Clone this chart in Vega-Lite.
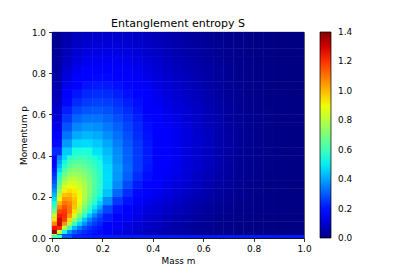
{
"$schema": "https://vega.github.io/schema/vega-lite/v6.json",
"width": 252, "height": 206,
"autosize": "none",
"padding": {"left": 52, "top": 32, "right": 105, "bottom": 35},
"background": "white",
"title": {"text": "Entanglement entropy S", "fontSize": 11, "font": "DejaVu Sans", "fontWeight": "normal", "color": "black", "offset": -1},
"config": {"view": {"stroke": "black", "strokeWidth": 0.8}, "font": "DejaVu Sans",
  "axis": {"grid": false, "tickSize": 3.5, "tickColor": "black", "domainColor": "black", "labelColor": "black", "labelFontSize": 8.9, "titleFontSize": 8.9, "titleFontWeight": "normal", "titleColor": "black", "labelPadding": 3, "titlePadding": 3, "labelFlush": false, "tickWidth": 0.8, "domainWidth": 0.8, "labelFont": "DejaVu Sans", "titleFont": "DejaVu Sans"}},
"datasets": {
"grid": [
{"m":0.02,"p":0.02,"s":0.84},{"m":0.06,"p":0.02,"s":0.33},{"m":0.10,"p":0.02,"s":0.24},{"m":0.14,"p":0.02,"s":0.19},{"m":0.18,"p":0.02,"s":0.16},{"m":0.22,"p":0.02,"s":0.14},{"m":0.26,"p":0.02,"s":0.12},{"m":0.30,"p":0.02,"s":0.10},{"m":0.34,"p":0.02,"s":0.085},{"m":0.38,"p":0.02,"s":0.07},{"m":0.42,"p":0.02,"s":0.06},{"m":0.46,"p":0.02,"s":0.05},{"m":0.50,"p":0.02,"s":0.04},{"m":0.54,"p":0.02,"s":0.032},{"m":0.58,"p":0.02,"s":0.025},{"m":0.62,"p":0.02,"s":0.018},{"m":0.66,"p":0.02,"s":0.013},{"m":0.70,"p":0.02,"s":0.010},{"m":0.74,"p":0.02,"s":0.008},{"m":0.78,"p":0.02,"s":0.006},{"m":0.82,"p":0.02,"s":0.005},{"m":0.86,"p":0.02,"s":0.004},{"m":0.90,"p":0.02,"s":0.004},{"m":0.94,"p":0.02,"s":0.003},{"m":0.98,"p":0.02,"s":0.003},
{"m":0.02,"p":0.06,"s":1.34},{"m":0.06,"p":0.06,"s":0.80},{"m":0.10,"p":0.06,"s":0.443},{"m":0.14,"p":0.06,"s":0.30},{"m":0.18,"p":0.06,"s":0.22},{"m":0.22,"p":0.06,"s":0.175},{"m":0.26,"p":0.06,"s":0.145},{"m":0.30,"p":0.06,"s":0.12},{"m":0.34,"p":0.06,"s":0.10},{"m":0.38,"p":0.06,"s":0.085},{"m":0.42,"p":0.06,"s":0.075},{"m":0.46,"p":0.06,"s":0.06},{"m":0.50,"p":0.06,"s":0.048},{"m":0.54,"p":0.06,"s":0.038},{"m":0.58,"p":0.06,"s":0.03},{"m":0.62,"p":0.06,"s":0.022},{"m":0.66,"p":0.06,"s":0.016},{"m":0.70,"p":0.06,"s":0.012},{"m":0.74,"p":0.06,"s":0.009},{"m":0.78,"p":0.06,"s":0.007},{"m":0.82,"p":0.06,"s":0.006},{"m":0.86,"p":0.06,"s":0.005},{"m":0.90,"p":0.06,"s":0.004},{"m":0.94,"p":0.06,"s":0.004},{"m":0.98,"p":0.06,"s":0.003},
{"m":0.02,"p":0.10,"s":1.18},{"m":0.06,"p":0.10,"s":1.12},{"m":0.10,"p":0.10,"s":0.72},{"m":0.14,"p":0.10,"s":0.453},{"m":0.18,"p":0.10,"s":0.29},{"m":0.22,"p":0.10,"s":0.21},{"m":0.26,"p":0.10,"s":0.175},{"m":0.30,"p":0.10,"s":0.145},{"m":0.34,"p":0.10,"s":0.12},{"m":0.38,"p":0.10,"s":0.10},{"m":0.42,"p":0.10,"s":0.086},{"m":0.46,"p":0.10,"s":0.073},{"m":0.50,"p":0.10,"s":0.06},{"m":0.54,"p":0.10,"s":0.048},{"m":0.58,"p":0.10,"s":0.037},{"m":0.62,"p":0.10,"s":0.028},{"m":0.66,"p":0.10,"s":0.02},{"m":0.70,"p":0.10,"s":0.015},{"m":0.74,"p":0.10,"s":0.011},{"m":0.78,"p":0.10,"s":0.008},{"m":0.82,"p":0.10,"s":0.007},{"m":0.86,"p":0.10,"s":0.006},{"m":0.90,"p":0.10,"s":0.005},{"m":0.94,"p":0.10,"s":0.004},{"m":0.98,"p":0.10,"s":0.004},
{"m":0.02,"p":0.14,"s":0.96},{"m":0.06,"p":0.14,"s":1.15},{"m":0.10,"p":0.14,"s":0.89},{"m":0.14,"p":0.14,"s":0.62},{"m":0.18,"p":0.14,"s":0.421},{"m":0.22,"p":0.14,"s":0.27},{"m":0.26,"p":0.14,"s":0.20},{"m":0.30,"p":0.14,"s":0.16},{"m":0.34,"p":0.14,"s":0.135},{"m":0.38,"p":0.14,"s":0.115},{"m":0.42,"p":0.14,"s":0.097},{"m":0.46,"p":0.14,"s":0.085},{"m":0.50,"p":0.14,"s":0.072},{"m":0.54,"p":0.14,"s":0.058},{"m":0.58,"p":0.14,"s":0.045},{"m":0.62,"p":0.14,"s":0.035},{"m":0.66,"p":0.14,"s":0.025},{"m":0.70,"p":0.14,"s":0.018},{"m":0.74,"p":0.14,"s":0.013},{"m":0.78,"p":0.14,"s":0.010},{"m":0.82,"p":0.14,"s":0.008},{"m":0.86,"p":0.14,"s":0.007},{"m":0.90,"p":0.14,"s":0.006},{"m":0.94,"p":0.14,"s":0.005},{"m":0.98,"p":0.14,"s":0.004},
{"m":0.02,"p":0.18,"s":0.79},{"m":0.06,"p":0.18,"s":1.08},{"m":0.10,"p":0.18,"s":0.94},{"m":0.14,"p":0.18,"s":0.72},{"m":0.18,"p":0.18,"s":0.53},{"m":0.22,"p":0.18,"s":0.37},{"m":0.26,"p":0.18,"s":0.253},{"m":0.30,"p":0.18,"s":0.20},{"m":0.34,"p":0.18,"s":0.16},{"m":0.38,"p":0.18,"s":0.135},{"m":0.42,"p":0.18,"s":0.115},{"m":0.46,"p":0.18,"s":0.10},{"m":0.50,"p":0.18,"s":0.086},{"m":0.54,"p":0.18,"s":0.07},{"m":0.58,"p":0.18,"s":0.055},{"m":0.62,"p":0.18,"s":0.043},{"m":0.66,"p":0.18,"s":0.031},{"m":0.70,"p":0.18,"s":0.022},{"m":0.74,"p":0.18,"s":0.016},{"m":0.78,"p":0.18,"s":0.012},{"m":0.82,"p":0.18,"s":0.009},{"m":0.86,"p":0.18,"s":0.007},{"m":0.90,"p":0.18,"s":0.006},{"m":0.94,"p":0.18,"s":0.005},{"m":0.98,"p":0.18,"s":0.004},
{"m":0.02,"p":0.22,"s":0.64},{"m":0.06,"p":0.22,"s":0.97},{"m":0.10,"p":0.22,"s":0.91},{"m":0.14,"p":0.22,"s":0.75},{"m":0.18,"p":0.22,"s":0.58},{"m":0.22,"p":0.22,"s":0.445},{"m":0.26,"p":0.22,"s":0.317},{"m":0.30,"p":0.22,"s":0.235},{"m":0.34,"p":0.22,"s":0.185},{"m":0.38,"p":0.22,"s":0.155},{"m":0.42,"p":0.22,"s":0.135},{"m":0.46,"p":0.22,"s":0.118},{"m":0.50,"p":0.22,"s":0.10},{"m":0.54,"p":0.22,"s":0.082},{"m":0.58,"p":0.22,"s":0.066},{"m":0.62,"p":0.22,"s":0.052},{"m":0.66,"p":0.22,"s":0.038},{"m":0.70,"p":0.22,"s":0.027},{"m":0.74,"p":0.22,"s":0.019},{"m":0.78,"p":0.22,"s":0.014},{"m":0.82,"p":0.22,"s":0.010},{"m":0.86,"p":0.22,"s":0.008},{"m":0.90,"p":0.22,"s":0.006},{"m":0.94,"p":0.22,"s":0.005},{"m":0.98,"p":0.22,"s":0.004},
{"m":0.02,"p":0.26,"s":0.51},{"m":0.06,"p":0.26,"s":0.85},{"m":0.10,"p":0.26,"s":0.85},{"m":0.14,"p":0.26,"s":0.74},{"m":0.18,"p":0.26,"s":0.60},{"m":0.22,"p":0.26,"s":0.475},{"m":0.26,"p":0.26,"s":0.368},{"m":0.30,"p":0.26,"s":0.275},{"m":0.34,"p":0.26,"s":0.21},{"m":0.38,"p":0.26,"s":0.172},{"m":0.42,"p":0.26,"s":0.15},{"m":0.46,"p":0.26,"s":0.13},{"m":0.50,"p":0.26,"s":0.112},{"m":0.54,"p":0.26,"s":0.093},{"m":0.58,"p":0.26,"s":0.076},{"m":0.62,"p":0.26,"s":0.059},{"m":0.66,"p":0.26,"s":0.044},{"m":0.70,"p":0.26,"s":0.031},{"m":0.74,"p":0.26,"s":0.021},{"m":0.78,"p":0.26,"s":0.015},{"m":0.82,"p":0.26,"s":0.011},{"m":0.86,"p":0.26,"s":0.008},{"m":0.90,"p":0.26,"s":0.007},{"m":0.94,"p":0.26,"s":0.005},{"m":0.98,"p":0.26,"s":0.004},
{"m":0.02,"p":0.30,"s":0.415},{"m":0.06,"p":0.30,"s":0.74},{"m":0.10,"p":0.30,"s":0.775},{"m":0.14,"p":0.30,"s":0.70},{"m":0.18,"p":0.30,"s":0.60},{"m":0.22,"p":0.30,"s":0.48},{"m":0.26,"p":0.30,"s":0.383},{"m":0.30,"p":0.30,"s":0.306},{"m":0.34,"p":0.30,"s":0.235},{"m":0.38,"p":0.30,"s":0.19},{"m":0.42,"p":0.30,"s":0.162},{"m":0.46,"p":0.30,"s":0.14},{"m":0.50,"p":0.30,"s":0.122},{"m":0.54,"p":0.30,"s":0.102},{"m":0.58,"p":0.30,"s":0.084},{"m":0.62,"p":0.30,"s":0.066},{"m":0.66,"p":0.30,"s":0.05},{"m":0.70,"p":0.30,"s":0.036},{"m":0.74,"p":0.30,"s":0.024},{"m":0.78,"p":0.30,"s":0.017},{"m":0.82,"p":0.30,"s":0.012},{"m":0.86,"p":0.30,"s":0.009},{"m":0.90,"p":0.30,"s":0.007},{"m":0.94,"p":0.30,"s":0.006},{"m":0.98,"p":0.30,"s":0.005},
{"m":0.02,"p":0.34,"s":0.343},{"m":0.06,"p":0.34,"s":0.64},{"m":0.10,"p":0.34,"s":0.69},{"m":0.14,"p":0.34,"s":0.654},{"m":0.18,"p":0.34,"s":0.572},{"m":0.22,"p":0.34,"s":0.475},{"m":0.26,"p":0.34,"s":0.392},{"m":0.30,"p":0.34,"s":0.319},{"m":0.34,"p":0.34,"s":0.255},{"m":0.38,"p":0.34,"s":0.205},{"m":0.42,"p":0.34,"s":0.17},{"m":0.46,"p":0.34,"s":0.148},{"m":0.50,"p":0.34,"s":0.13},{"m":0.54,"p":0.34,"s":0.11},{"m":0.58,"p":0.34,"s":0.092},{"m":0.62,"p":0.34,"s":0.073},{"m":0.66,"p":0.34,"s":0.056},{"m":0.70,"p":0.34,"s":0.04},{"m":0.74,"p":0.34,"s":0.027},{"m":0.78,"p":0.34,"s":0.019},{"m":0.82,"p":0.34,"s":0.013},{"m":0.86,"p":0.34,"s":0.010},{"m":0.90,"p":0.34,"s":0.008},{"m":0.94,"p":0.34,"s":0.006},{"m":0.98,"p":0.34,"s":0.005},
{"m":0.02,"p":0.38,"s":0.281},{"m":0.06,"p":0.38,"s":0.535},{"m":0.10,"p":0.38,"s":0.614},{"m":0.14,"p":0.38,"s":0.593},{"m":0.18,"p":0.38,"s":0.53},{"m":0.22,"p":0.38,"s":0.454},{"m":0.26,"p":0.38,"s":0.375},{"m":0.30,"p":0.38,"s":0.311},{"m":0.34,"p":0.38,"s":0.253},{"m":0.38,"p":0.38,"s":0.212},{"m":0.42,"p":0.38,"s":0.175},{"m":0.46,"p":0.38,"s":0.152},{"m":0.50,"p":0.38,"s":0.133},{"m":0.54,"p":0.38,"s":0.113},{"m":0.58,"p":0.38,"s":0.095},{"m":0.62,"p":0.38,"s":0.076},{"m":0.66,"p":0.38,"s":0.058},{"m":0.70,"p":0.38,"s":0.042},{"m":0.74,"p":0.38,"s":0.029},{"m":0.78,"p":0.38,"s":0.020},{"m":0.82,"p":0.38,"s":0.014},{"m":0.86,"p":0.38,"s":0.010},{"m":0.90,"p":0.38,"s":0.008},{"m":0.94,"p":0.38,"s":0.006},{"m":0.98,"p":0.38,"s":0.005},
{"m":0.02,"p":0.42,"s":0.231},{"m":0.06,"p":0.42,"s":0.454},{"m":0.10,"p":0.42,"s":0.532},{"m":0.14,"p":0.42,"s":0.535},{"m":0.18,"p":0.42,"s":0.489},{"m":0.22,"p":0.42,"s":0.434},{"m":0.26,"p":0.42,"s":0.366},{"m":0.30,"p":0.42,"s":0.305},{"m":0.34,"p":0.42,"s":0.252},{"m":0.38,"p":0.42,"s":0.21},{"m":0.42,"p":0.42,"s":0.176},{"m":0.46,"p":0.42,"s":0.153},{"m":0.50,"p":0.42,"s":0.134},{"m":0.54,"p":0.42,"s":0.114},{"m":0.58,"p":0.42,"s":0.096},{"m":0.62,"p":0.42,"s":0.077},{"m":0.66,"p":0.42,"s":0.059},{"m":0.70,"p":0.42,"s":0.043},{"m":0.74,"p":0.42,"s":0.030},{"m":0.78,"p":0.42,"s":0.021},{"m":0.82,"p":0.42,"s":0.015},{"m":0.86,"p":0.42,"s":0.011},{"m":0.90,"p":0.42,"s":0.008},{"m":0.94,"p":0.42,"s":0.006},{"m":0.98,"p":0.42,"s":0.005},
{"m":0.02,"p":0.46,"s":0.188},{"m":0.06,"p":0.46,"s":0.387},{"m":0.10,"p":0.46,"s":0.47},{"m":0.14,"p":0.46,"s":0.478},{"m":0.18,"p":0.46,"s":0.451},{"m":0.22,"p":0.46,"s":0.404},{"m":0.26,"p":0.46,"s":0.348},{"m":0.30,"p":0.46,"s":0.295},{"m":0.34,"p":0.46,"s":0.246},{"m":0.38,"p":0.46,"s":0.205},{"m":0.42,"p":0.46,"s":0.173},{"m":0.46,"p":0.46,"s":0.152},{"m":0.50,"p":0.46,"s":0.134},{"m":0.54,"p":0.46,"s":0.114},{"m":0.58,"p":0.46,"s":0.096},{"m":0.62,"p":0.46,"s":0.077},{"m":0.66,"p":0.46,"s":0.059},{"m":0.70,"p":0.46,"s":0.043},{"m":0.74,"p":0.46,"s":0.030},{"m":0.78,"p":0.46,"s":0.021},{"m":0.82,"p":0.46,"s":0.015},{"m":0.86,"p":0.46,"s":0.011},{"m":0.90,"p":0.46,"s":0.008},{"m":0.94,"p":0.46,"s":0.006},{"m":0.98,"p":0.46,"s":0.005},
{"m":0.02,"p":0.50,"s":0.154},{"m":0.06,"p":0.50,"s":0.334},{"m":0.10,"p":0.50,"s":0.408},{"m":0.14,"p":0.50,"s":0.425},{"m":0.18,"p":0.50,"s":0.41},{"m":0.22,"p":0.50,"s":0.371},{"m":0.26,"p":0.50,"s":0.33},{"m":0.30,"p":0.50,"s":0.282},{"m":0.34,"p":0.50,"s":0.236},{"m":0.38,"p":0.50,"s":0.198},{"m":0.42,"p":0.50,"s":0.17},{"m":0.46,"p":0.50,"s":0.15},{"m":0.50,"p":0.50,"s":0.133},{"m":0.54,"p":0.50,"s":0.113},{"m":0.58,"p":0.50,"s":0.095},{"m":0.62,"p":0.50,"s":0.076},{"m":0.66,"p":0.50,"s":0.058},{"m":0.70,"p":0.50,"s":0.042},{"m":0.74,"p":0.50,"s":0.030},{"m":0.78,"p":0.50,"s":0.021},{"m":0.82,"p":0.50,"s":0.015},{"m":0.86,"p":0.50,"s":0.011},{"m":0.90,"p":0.50,"s":0.008},{"m":0.94,"p":0.50,"s":0.006},{"m":0.98,"p":0.50,"s":0.005},
{"m":0.02,"p":0.54,"s":0.128},{"m":0.06,"p":0.54,"s":0.289},{"m":0.10,"p":0.54,"s":0.359},{"m":0.14,"p":0.54,"s":0.38},{"m":0.18,"p":0.54,"s":0.371},{"m":0.22,"p":0.54,"s":0.343},{"m":0.26,"p":0.54,"s":0.308},{"m":0.30,"p":0.54,"s":0.267},{"m":0.34,"p":0.54,"s":0.227},{"m":0.38,"p":0.54,"s":0.19},{"m":0.42,"p":0.54,"s":0.165},{"m":0.46,"p":0.54,"s":0.145},{"m":0.50,"p":0.54,"s":0.128},{"m":0.54,"p":0.54,"s":0.109},{"m":0.58,"p":0.54,"s":0.091},{"m":0.62,"p":0.54,"s":0.073},{"m":0.66,"p":0.54,"s":0.056},{"m":0.70,"p":0.54,"s":0.041},{"m":0.74,"p":0.54,"s":0.029},{"m":0.78,"p":0.54,"s":0.020},{"m":0.82,"p":0.54,"s":0.014},{"m":0.86,"p":0.54,"s":0.011},{"m":0.90,"p":0.54,"s":0.008},{"m":0.94,"p":0.54,"s":0.006},{"m":0.98,"p":0.54,"s":0.005},
{"m":0.02,"p":0.58,"s":0.107},{"m":0.06,"p":0.58,"s":0.25},{"m":0.10,"p":0.58,"s":0.312},{"m":0.14,"p":0.58,"s":0.334},{"m":0.18,"p":0.58,"s":0.333},{"m":0.22,"p":0.58,"s":0.313},{"m":0.26,"p":0.58,"s":0.285},{"m":0.30,"p":0.58,"s":0.252},{"m":0.34,"p":0.58,"s":0.216},{"m":0.38,"p":0.58,"s":0.182},{"m":0.42,"p":0.58,"s":0.158},{"m":0.46,"p":0.58,"s":0.138},{"m":0.50,"p":0.58,"s":0.122},{"m":0.54,"p":0.58,"s":0.103},{"m":0.58,"p":0.58,"s":0.086},{"m":0.62,"p":0.58,"s":0.069},{"m":0.66,"p":0.58,"s":0.053},{"m":0.70,"p":0.58,"s":0.039},{"m":0.74,"p":0.58,"s":0.028},{"m":0.78,"p":0.58,"s":0.020},{"m":0.82,"p":0.58,"s":0.014},{"m":0.86,"p":0.58,"s":0.010},{"m":0.90,"p":0.58,"s":0.008},{"m":0.94,"p":0.58,"s":0.006},{"m":0.98,"p":0.58,"s":0.005},
{"m":0.02,"p":0.62,"s":0.09},{"m":0.06,"p":0.62,"s":0.216},{"m":0.10,"p":0.62,"s":0.27},{"m":0.14,"p":0.62,"s":0.292},{"m":0.18,"p":0.62,"s":0.297},{"m":0.22,"p":0.62,"s":0.284},{"m":0.26,"p":0.62,"s":0.26},{"m":0.30,"p":0.62,"s":0.234},{"m":0.34,"p":0.62,"s":0.203},{"m":0.38,"p":0.62,"s":0.174},{"m":0.42,"p":0.62,"s":0.15},{"m":0.46,"p":0.62,"s":0.13},{"m":0.50,"p":0.62,"s":0.115},{"m":0.54,"p":0.62,"s":0.097},{"m":0.58,"p":0.62,"s":0.08},{"m":0.62,"p":0.62,"s":0.064},{"m":0.66,"p":0.62,"s":0.049},{"m":0.70,"p":0.62,"s":0.036},{"m":0.74,"p":0.62,"s":0.026},{"m":0.78,"p":0.62,"s":0.019},{"m":0.82,"p":0.62,"s":0.013},{"m":0.86,"p":0.62,"s":0.010},{"m":0.90,"p":0.62,"s":0.007},{"m":0.94,"p":0.62,"s":0.006},{"m":0.98,"p":0.62,"s":0.005},
{"m":0.02,"p":0.66,"s":0.076},{"m":0.06,"p":0.66,"s":0.183},{"m":0.10,"p":0.66,"s":0.234},{"m":0.14,"p":0.66,"s":0.254},{"m":0.18,"p":0.66,"s":0.265},{"m":0.22,"p":0.66,"s":0.258},{"m":0.26,"p":0.66,"s":0.24},{"m":0.30,"p":0.66,"s":0.214},{"m":0.34,"p":0.66,"s":0.19},{"m":0.38,"p":0.66,"s":0.162},{"m":0.42,"p":0.66,"s":0.14},{"m":0.46,"p":0.66,"s":0.12},{"m":0.50,"p":0.66,"s":0.106},{"m":0.54,"p":0.66,"s":0.09},{"m":0.58,"p":0.66,"s":0.074},{"m":0.62,"p":0.66,"s":0.059},{"m":0.66,"p":0.66,"s":0.045},{"m":0.70,"p":0.66,"s":0.033},{"m":0.74,"p":0.66,"s":0.024},{"m":0.78,"p":0.66,"s":0.017},{"m":0.82,"p":0.66,"s":0.012},{"m":0.86,"p":0.66,"s":0.009},{"m":0.90,"p":0.66,"s":0.007},{"m":0.94,"p":0.66,"s":0.005},{"m":0.98,"p":0.66,"s":0.004},
{"m":0.02,"p":0.70,"s":0.064},{"m":0.06,"p":0.70,"s":0.157},{"m":0.10,"p":0.70,"s":0.203},{"m":0.14,"p":0.70,"s":0.229},{"m":0.18,"p":0.70,"s":0.237},{"m":0.22,"p":0.70,"s":0.231},{"m":0.26,"p":0.70,"s":0.217},{"m":0.30,"p":0.70,"s":0.196},{"m":0.34,"p":0.70,"s":0.176},{"m":0.38,"p":0.70,"s":0.152},{"m":0.42,"p":0.70,"s":0.13},{"m":0.46,"p":0.70,"s":0.112},{"m":0.50,"p":0.70,"s":0.098},{"m":0.54,"p":0.70,"s":0.083},{"m":0.58,"p":0.70,"s":0.068},{"m":0.62,"p":0.70,"s":0.054},{"m":0.66,"p":0.70,"s":0.041},{"m":0.70,"p":0.70,"s":0.030},{"m":0.74,"p":0.70,"s":0.022},{"m":0.78,"p":0.70,"s":0.016},{"m":0.82,"p":0.70,"s":0.011},{"m":0.86,"p":0.70,"s":0.008},{"m":0.90,"p":0.70,"s":0.006},{"m":0.94,"p":0.70,"s":0.005},{"m":0.98,"p":0.70,"s":0.004},
{"m":0.02,"p":0.74,"s":0.054},{"m":0.06,"p":0.74,"s":0.133},{"m":0.10,"p":0.74,"s":0.176},{"m":0.14,"p":0.74,"s":0.201},{"m":0.18,"p":0.74,"s":0.209},{"m":0.22,"p":0.74,"s":0.206},{"m":0.26,"p":0.74,"s":0.196},{"m":0.30,"p":0.74,"s":0.18},{"m":0.34,"p":0.74,"s":0.161},{"m":0.38,"p":0.74,"s":0.141},{"m":0.42,"p":0.74,"s":0.121},{"m":0.46,"p":0.74,"s":0.104},{"m":0.50,"p":0.74,"s":0.09},{"m":0.54,"p":0.74,"s":0.076},{"m":0.58,"p":0.74,"s":0.062},{"m":0.62,"p":0.74,"s":0.049},{"m":0.66,"p":0.74,"s":0.038},{"m":0.70,"p":0.74,"s":0.028},{"m":0.74,"p":0.74,"s":0.020},{"m":0.78,"p":0.74,"s":0.015},{"m":0.82,"p":0.74,"s":0.011},{"m":0.86,"p":0.74,"s":0.008},{"m":0.90,"p":0.74,"s":0.006},{"m":0.94,"p":0.74,"s":0.005},{"m":0.98,"p":0.74,"s":0.004},
{"m":0.02,"p":0.78,"s":0.046},{"m":0.06,"p":0.78,"s":0.114},{"m":0.10,"p":0.78,"s":0.153},{"m":0.14,"p":0.78,"s":0.178},{"m":0.18,"p":0.78,"s":0.183},{"m":0.22,"p":0.78,"s":0.183},{"m":0.26,"p":0.78,"s":0.177},{"m":0.30,"p":0.78,"s":0.163},{"m":0.34,"p":0.78,"s":0.147},{"m":0.38,"p":0.78,"s":0.129},{"m":0.42,"p":0.78,"s":0.111},{"m":0.46,"p":0.78,"s":0.095},{"m":0.50,"p":0.78,"s":0.082},{"m":0.54,"p":0.78,"s":0.069},{"m":0.58,"p":0.78,"s":0.056},{"m":0.62,"p":0.78,"s":0.045},{"m":0.66,"p":0.78,"s":0.034},{"m":0.70,"p":0.78,"s":0.026},{"m":0.74,"p":0.78,"s":0.019},{"m":0.78,"p":0.78,"s":0.014},{"m":0.82,"p":0.78,"s":0.010},{"m":0.86,"p":0.78,"s":0.007},{"m":0.90,"p":0.78,"s":0.006},{"m":0.94,"p":0.78,"s":0.005},{"m":0.98,"p":0.78,"s":0.004},
{"m":0.02,"p":0.82,"s":0.039},{"m":0.06,"p":0.82,"s":0.097},{"m":0.10,"p":0.82,"s":0.133},{"m":0.14,"p":0.82,"s":0.154},{"m":0.18,"p":0.82,"s":0.159},{"m":0.22,"p":0.82,"s":0.163},{"m":0.26,"p":0.82,"s":0.157},{"m":0.30,"p":0.82,"s":0.147},{"m":0.34,"p":0.82,"s":0.133},{"m":0.38,"p":0.82,"s":0.118},{"m":0.42,"p":0.82,"s":0.102},{"m":0.46,"p":0.82,"s":0.087},{"m":0.50,"p":0.82,"s":0.075},{"m":0.54,"p":0.82,"s":0.062},{"m":0.58,"p":0.82,"s":0.051},{"m":0.62,"p":0.82,"s":0.041},{"m":0.66,"p":0.82,"s":0.031},{"m":0.70,"p":0.82,"s":0.024},{"m":0.74,"p":0.82,"s":0.017},{"m":0.78,"p":0.82,"s":0.013},{"m":0.82,"p":0.82,"s":0.009},{"m":0.86,"p":0.82,"s":0.007},{"m":0.90,"p":0.82,"s":0.005},{"m":0.94,"p":0.82,"s":0.004},{"m":0.98,"p":0.82,"s":0.004},
{"m":0.02,"p":0.86,"s":0.034},{"m":0.06,"p":0.86,"s":0.084},{"m":0.10,"p":0.86,"s":0.115},{"m":0.14,"p":0.86,"s":0.133},{"m":0.18,"p":0.86,"s":0.138},{"m":0.22,"p":0.86,"s":0.143},{"m":0.26,"p":0.86,"s":0.139},{"m":0.30,"p":0.86,"s":0.131},{"m":0.34,"p":0.86,"s":0.12},{"m":0.38,"p":0.86,"s":0.106},{"m":0.42,"p":0.86,"s":0.093},{"m":0.46,"p":0.86,"s":0.079},{"m":0.50,"p":0.86,"s":0.067},{"m":0.54,"p":0.86,"s":0.056},{"m":0.58,"p":0.86,"s":0.046},{"m":0.62,"p":0.86,"s":0.037},{"m":0.66,"p":0.86,"s":0.028},{"m":0.70,"p":0.86,"s":0.021},{"m":0.74,"p":0.86,"s":0.016},{"m":0.78,"p":0.86,"s":0.012},{"m":0.82,"p":0.86,"s":0.009},{"m":0.86,"p":0.86,"s":0.006},{"m":0.90,"p":0.86,"s":0.005},{"m":0.94,"p":0.86,"s":0.004},{"m":0.98,"p":0.86,"s":0.003},
{"m":0.02,"p":0.90,"s":0.029},{"m":0.06,"p":0.90,"s":0.071},{"m":0.10,"p":0.90,"s":0.10},{"m":0.14,"p":0.90,"s":0.115},{"m":0.18,"p":0.90,"s":0.123},{"m":0.22,"p":0.90,"s":0.125},{"m":0.26,"p":0.90,"s":0.122},{"m":0.30,"p":0.90,"s":0.117},{"m":0.34,"p":0.90,"s":0.107},{"m":0.38,"p":0.90,"s":0.095},{"m":0.42,"p":0.90,"s":0.083},{"m":0.46,"p":0.90,"s":0.071},{"m":0.50,"p":0.90,"s":0.06},{"m":0.54,"p":0.90,"s":0.05},{"m":0.58,"p":0.90,"s":0.041},{"m":0.62,"p":0.90,"s":0.033},{"m":0.66,"p":0.90,"s":0.025},{"m":0.70,"p":0.90,"s":0.019},{"m":0.74,"p":0.90,"s":0.014},{"m":0.78,"p":0.90,"s":0.011},{"m":0.82,"p":0.90,"s":0.008},{"m":0.86,"p":0.90,"s":0.006},{"m":0.90,"p":0.90,"s":0.005},{"m":0.94,"p":0.90,"s":0.004},{"m":0.98,"p":0.90,"s":0.003},
{"m":0.02,"p":0.94,"s":0.024},{"m":0.06,"p":0.94,"s":0.061},{"m":0.10,"p":0.94,"s":0.086},{"m":0.14,"p":0.94,"s":0.098},{"m":0.18,"p":0.94,"s":0.108},{"m":0.22,"p":0.94,"s":0.108},{"m":0.26,"p":0.94,"s":0.107},{"m":0.30,"p":0.94,"s":0.102},{"m":0.34,"p":0.94,"s":0.095},{"m":0.38,"p":0.94,"s":0.085},{"m":0.42,"p":0.94,"s":0.074},{"m":0.46,"p":0.94,"s":0.063},{"m":0.50,"p":0.94,"s":0.053},{"m":0.54,"p":0.94,"s":0.044},{"m":0.58,"p":0.94,"s":0.036},{"m":0.62,"p":0.94,"s":0.029},{"m":0.66,"p":0.94,"s":0.022},{"m":0.70,"p":0.94,"s":0.017},{"m":0.74,"p":0.94,"s":0.013},{"m":0.78,"p":0.94,"s":0.010},{"m":0.82,"p":0.94,"s":0.007},{"m":0.86,"p":0.94,"s":0.005},{"m":0.90,"p":0.94,"s":0.004},{"m":0.94,"p":0.94,"s":0.004},{"m":0.98,"p":0.94,"s":0.003},
{"m":0.02,"p":0.98,"s":0.021},{"m":0.06,"p":0.98,"s":0.051},{"m":0.10,"p":0.98,"s":0.074},{"m":0.14,"p":0.98,"s":0.084},{"m":0.18,"p":0.98,"s":0.093},{"m":0.22,"p":0.98,"s":0.093},{"m":0.26,"p":0.98,"s":0.093},{"m":0.30,"p":0.98,"s":0.089},{"m":0.34,"p":0.98,"s":0.083},{"m":0.38,"p":0.98,"s":0.075},{"m":0.42,"p":0.98,"s":0.066},{"m":0.46,"p":0.98,"s":0.057},{"m":0.50,"p":0.98,"s":0.048},{"m":0.54,"p":0.98,"s":0.04},{"m":0.58,"p":0.98,"s":0.032},{"m":0.62,"p":0.98,"s":0.026},{"m":0.66,"p":0.98,"s":0.02},{"m":0.70,"p":0.98,"s":0.015},{"m":0.74,"p":0.98,"s":0.011},{"m":0.78,"p":0.98,"s":0.008},{"m":0.82,"p":0.98,"s":0.006},{"m":0.86,"p":0.98,"s":0.005},{"m":0.90,"p":0.98,"s":0.004},{"m":0.94,"p":0.98,"s":0.003},{"m":0.98,"p":0.98,"s":0.003}
],
"fine": [
{"m":0.01,"p":0.01,"s":0.85},{"m":0.03,"p":0.01,"s":0.336},{"m":0.05,"p":0.01,"s":0.27},{"m":0.07,"p":0.01,"s":0.25},{"m":0.09,"p":0.01,"s":0.24},{"m":0.11,"p":0.01,"s":0.22},{"m":0.13,"p":0.01,"s":0.20},{"m":0.15,"p":0.01,"s":0.19},{"m":0.17,"p":0.01,"s":0.175},{"m":0.19,"p":0.01,"s":0.16},
{"m":0.01,"p":0.03,"s":1.37},{"m":0.03,"p":0.03,"s":0.836},{"m":0.05,"p":0.03,"s":0.518},{"m":0.07,"p":0.03,"s":0.37},{"m":0.09,"p":0.03,"s":0.30},{"m":0.11,"p":0.03,"s":0.26},{"m":0.13,"p":0.03,"s":0.235},{"m":0.15,"p":0.03,"s":0.215},{"m":0.17,"p":0.03,"s":0.20},{"m":0.19,"p":0.03,"s":0.185},
{"m":0.01,"p":0.05,"s":1.255},{"m":0.03,"p":0.05,"s":1.22},{"m":0.05,"p":0.05,"s":0.81},{"m":0.07,"p":0.05,"s":0.578},{"m":0.09,"p":0.05,"s":0.427},{"m":0.11,"p":0.05,"s":0.34},{"m":0.13,"p":0.05,"s":0.28},{"m":0.15,"p":0.05,"s":0.245},{"m":0.17,"p":0.05,"s":0.22},{"m":0.19,"p":0.05,"s":0.20},
{"m":0.01,"p":0.07,"s":1.07},{"m":0.03,"p":0.07,"s":1.31},{"m":0.05,"p":0.07,"s":1.06},{"m":0.07,"p":0.07,"s":0.778},{"m":0.09,"p":0.07,"s":0.597},{"m":0.11,"p":0.07,"s":0.47},{"m":0.13,"p":0.07,"s":0.37},{"m":0.15,"p":0.07,"s":0.30},{"m":0.17,"p":0.07,"s":0.255},{"m":0.19,"p":0.07,"s":0.225},
{"m":0.01,"p":0.09,"s":0.93},{"m":0.03,"p":0.09,"s":1.29},{"m":0.05,"p":0.09,"s":1.19},{"m":0.07,"p":0.09,"s":0.951},{"m":0.09,"p":0.09,"s":0.738},{"m":0.11,"p":0.09,"s":0.582},{"m":0.13,"p":0.09,"s":0.449},{"m":0.15,"p":0.09,"s":0.356},{"m":0.17,"p":0.09,"s":0.29},{"m":0.19,"p":0.09,"s":0.25},
{"m":0.01,"p":0.11,"s":0.81},{"m":0.03,"p":0.11,"s":1.24},{"m":0.05,"p":0.11,"s":1.21},{"m":0.07,"p":0.11,"s":1.05},{"m":0.09,"p":0.11,"s":0.861},{"m":0.11,"p":0.11,"s":0.693},{"m":0.13,"p":0.11,"s":0.562},{"m":0.15,"p":0.11,"s":0.449},{"m":0.17,"p":0.11,"s":0.357},{"m":0.19,"p":0.11,"s":0.285},
{"m":0.01,"p":0.13,"s":0.694},{"m":0.03,"p":0.13,"s":1.17},{"m":0.05,"p":0.13,"s":1.19},{"m":0.07,"p":0.13,"s":1.10},{"m":0.09,"p":0.13,"s":0.939},{"m":0.11,"p":0.13,"s":0.781},{"m":0.13,"p":0.13,"s":0.645},{"m":0.15,"p":0.13,"s":0.533},{"m":0.17,"p":0.13,"s":0.433},{"m":0.19,"p":0.13,"s":0.348},
{"m":0.01,"p":0.15,"s":0.607},{"m":0.03,"p":0.15,"s":1.08},{"m":0.05,"p":0.15,"s":1.155},{"m":0.07,"p":0.15,"s":1.10},{"m":0.09,"p":0.15,"s":0.984},{"m":0.11,"p":0.15,"s":0.837},{"m":0.13,"p":0.15,"s":0.703},{"m":0.15,"p":0.15,"s":0.598},{"m":0.17,"p":0.15,"s":0.499},{"m":0.19,"p":0.15,"s":0.411},
{"m":0.01,"p":0.17,"s":0.536},{"m":0.03,"p":0.17,"s":1.00},{"m":0.05,"p":0.17,"s":1.10},{"m":0.07,"p":0.17,"s":1.078},{"m":0.09,"p":0.17,"s":0.995},{"m":0.11,"p":0.17,"s":0.875},{"m":0.13,"p":0.17,"s":0.752},{"m":0.15,"p":0.17,"s":0.641},{"m":0.17,"p":0.17,"s":0.551},{"m":0.19,"p":0.17,"s":0.464},
{"m":0.01,"p":0.19,"s":0.478},{"m":0.03,"p":0.19,"s":0.908},{"m":0.05,"p":0.19,"s":1.048},{"m":0.07,"p":0.19,"s":1.039},{"m":0.09,"p":0.19,"s":0.983},{"m":0.11,"p":0.19,"s":0.891},{"m":0.13,"p":0.19,"s":0.78},{"m":0.15,"p":0.19,"s":0.681},{"m":0.17,"p":0.19,"s":0.59},{"m":0.19,"p":0.19,"s":0.507},
{"m":0.01,"p":0.21,"s":0.422},{"m":0.03,"p":0.21,"s":0.821},{"m":0.05,"p":0.21,"s":0.983},{"m":0.07,"p":0.21,"s":0.998},{"m":0.09,"p":0.21,"s":0.955},{"m":0.11,"p":0.21,"s":0.885},{"m":0.13,"p":0.21,"s":0.793},{"m":0.15,"p":0.21,"s":0.699},{"m":0.17,"p":0.21,"s":0.613},{"m":0.19,"p":0.21,"s":0.537},
{"m":0.01,"p":0.23,"s":0.371},{"m":0.03,"p":0.23,"s":0.748},{"m":0.05,"p":0.23,"s":0.913},{"m":0.07,"p":0.23,"s":0.947},{"m":0.09,"p":0.23,"s":0.925},{"m":0.11,"p":0.23,"s":0.87},{"m":0.13,"p":0.23,"s":0.794},{"m":0.15,"p":0.23,"s":0.708},{"m":0.17,"p":0.23,"s":0.627},{"m":0.19,"p":0.23,"s":0.553},
{"m":0.01,"p":0.25,"s":0.326},{"m":0.03,"p":0.25,"s":0.686},{"m":0.05,"p":0.25,"s":0.849},{"m":0.07,"p":0.25,"s":0.897},{"m":0.09,"p":0.25,"s":0.885},{"m":0.11,"p":0.25,"s":0.841},{"m":0.13,"p":0.25,"s":0.783},{"m":0.15,"p":0.25,"s":0.708},{"m":0.17,"p":0.25,"s":0.631},{"m":0.19,"p":0.25,"s":0.564},
{"m":0.01,"p":0.27,"s":0.289},{"m":0.03,"p":0.27,"s":0.628},{"m":0.05,"p":0.27,"s":0.792},{"m":0.07,"p":0.27,"s":0.848},{"m":0.09,"p":0.27,"s":0.845},{"m":0.11,"p":0.27,"s":0.812},{"m":0.13,"p":0.27,"s":0.765},{"m":0.15,"p":0.27,"s":0.701},{"m":0.17,"p":0.27,"s":0.634},{"m":0.19,"p":0.27,"s":0.567},
{"m":0.01,"p":0.29,"s":0.257},{"m":0.03,"p":0.29,"s":0.578},{"m":0.05,"p":0.29,"s":0.727},{"m":0.07,"p":0.29,"s":0.794},{"m":0.09,"p":0.29,"s":0.80},{"m":0.11,"p":0.29,"s":0.777},{"m":0.13,"p":0.29,"s":0.739},{"m":0.15,"p":0.29,"s":0.688},{"m":0.17,"p":0.29,"s":0.629},{"m":0.19,"p":0.29,"s":0.568},
{"m":0.01,"p":0.31,"s":0.23},{"m":0.03,"p":0.31,"s":0.527},{"m":0.05,"p":0.31,"s":0.667},{"m":0.07,"p":0.31,"s":0.739},{"m":0.09,"p":0.31,"s":0.756},{"m":0.11,"p":0.31,"s":0.742},{"m":0.13,"p":0.31,"s":0.711},{"m":0.15,"p":0.31,"s":0.671},{"m":0.17,"p":0.31,"s":0.619},{"m":0.19,"p":0.31,"s":0.564},
{"m":0.01,"p":0.33,"s":0.205},{"m":0.03,"p":0.33,"s":0.475},{"m":0.05,"p":0.33,"s":0.611},{"m":0.07,"p":0.33,"s":0.688},{"m":0.09,"p":0.33,"s":0.714},{"m":0.11,"p":0.33,"s":0.709},{"m":0.13,"p":0.33,"s":0.683},{"m":0.15,"p":0.33,"s":0.646},{"m":0.17,"p":0.33,"s":0.603},{"m":0.19,"p":0.33,"s":0.554},
{"m":0.01,"p":0.35,"s":0.185},{"m":0.03,"p":0.35,"s":0.431},{"m":0.05,"p":0.35,"s":0.561},{"m":0.07,"p":0.35,"s":0.642},{"m":0.09,"p":0.35,"s":0.674},{"m":0.11,"p":0.35,"s":0.672},{"m":0.13,"p":0.35,"s":0.652},{"m":0.15,"p":0.35,"s":0.619},{"m":0.17,"p":0.35,"s":0.582},{"m":0.19,"p":0.35,"s":0.539},
{"m":0.01,"p":0.37,"s":0.166},{"m":0.03,"p":0.37,"s":0.39},{"m":0.05,"p":0.37,"s":0.517},{"m":0.07,"p":0.37,"s":0.60},{"m":0.09,"p":0.37,"s":0.632},{"m":0.11,"p":0.37,"s":0.634},{"m":0.13,"p":0.37,"s":0.624},{"m":0.15,"p":0.37,"s":0.596},{"m":0.17,"p":0.37,"s":0.564},{"m":0.19,"p":0.37,"s":0.526},
{"m":0.01,"p":0.39,"s":0.151},{"m":0.03,"p":0.39,"s":0.356},{"m":0.05,"p":0.39,"s":0.478},{"m":0.07,"p":0.39,"s":0.56},{"m":0.09,"p":0.39,"s":0.591},{"m":0.11,"p":0.39,"s":0.598},{"m":0.13,"p":0.39,"s":0.593},{"m":0.15,"p":0.39,"s":0.57},{"m":0.17,"p":0.39,"s":0.544},{"m":0.19,"p":0.39,"s":0.51}
],
"edge": [
{"m":0.02,"p":0,"s":0.6},{"m":0.06,"p":0,"s":0.3},{"m":0.10,"p":0,"s":0.23},{"m":0.14,"p":0,"s":0.22},{"m":0.18,"p":0,"s":0.21},{"m":0.22,"p":0,"s":0.21},{"m":0.26,"p":0,"s":0.21},{"m":0.30,"p":0,"s":0.21},{"m":0.34,"p":0,"s":0.21},{"m":0.38,"p":0,"s":0.21},{"m":0.42,"p":0,"s":0.21},{"m":0.46,"p":0,"s":0.21},{"m":0.50,"p":0,"s":0.21},{"m":0.54,"p":0,"s":0.21},{"m":0.58,"p":0,"s":0.21},{"m":0.62,"p":0,"s":0.21},{"m":0.66,"p":0,"s":0.21},{"m":0.70,"p":0,"s":0.21},{"m":0.74,"p":0,"s":0.21},{"m":0.78,"p":0,"s":0.21},{"m":0.82,"p":0,"s":0.21},{"m":0.86,"p":0,"s":0.21},{"m":0.90,"p":0,"s":0.21},{"m":0.94,"p":0,"s":0.21},{"m":0.98,"p":0,"s":0.21}
]
},
"layer": [
{"data": {"name": "grid"},
 "mark": {"type": "rect", "width": 10.5, "height": 8.7, "clip": true},
 "encoding": {
  "x": {"field": "m", "type": "quantitative", "scale": {"domain": [0, 1], "nice": false, "zero": false}, "axis": {"values": [0, 0.2, 0.4, 0.6, 0.8, 1], "format": ".1f", "title": "Mass m"}},
  "y": {"field": "p", "type": "quantitative", "scale": {"domain": [0, 1], "nice": false, "zero": false}, "axis": {"values": [0, 0.2, 0.4, 0.6, 0.8, 1], "format": ".1f", "title": "Momentum p"}},
  "color": {"field": "s", "type": "quantitative",
   "scale": {"domain": [0, 0.154, 0.175, 0.476, 0.49, 0.525, 0.7, 0.896, 0.924, 1.246, 1.274, 1.4],
             "range": ["#000080", "#0000ff", "#0000ff", "#00dbff", "#00e5f8", "#14ffe2", "#7bff7b", "#eeff08", "#ffec00", "#ff1300", "#e80000", "#800000"], "interpolate": "rgb"},
   "legend": {"orient": "none", "legendX": 268, "legendY": 0, "title": null, "gradientLength": 206, "gradientThickness": 11, "values": [0.002, 0.2, 0.4, 0.6, 0.8, 1.0, 1.2, 1.398], "format": ".1f", "labelFontSize": 8.9, "labelOffset": 7, "labelBaseline": "middle", "labelColor": "black", "labelFont": "DejaVu Sans", "gradientStrokeColor": "black", "gradientStrokeWidth": 0.7, "padding": 0, "direction": "vertical"}}
 }},
{"data": {"name": "fine"},
 "mark": {"type": "rect", "width": 5.3, "height": 4.4, "clip": true},
 "encoding": {
  "x": {"field": "m", "type": "quantitative"},
  "y": {"field": "p", "type": "quantitative"},
  "color": {"field": "s", "type": "quantitative"}
 }},
{"data": {"name": "edge"},
 "mark": {"type": "rect", "width": 10.5, "height": 3, "yOffset": -1.5, "clip": true},
 "encoding": {
  "x": {"field": "m", "type": "quantitative"},
  "y": {"field": "p", "type": "quantitative"},
  "color": {"field": "s", "type": "quantitative"}
 }}
]
}
